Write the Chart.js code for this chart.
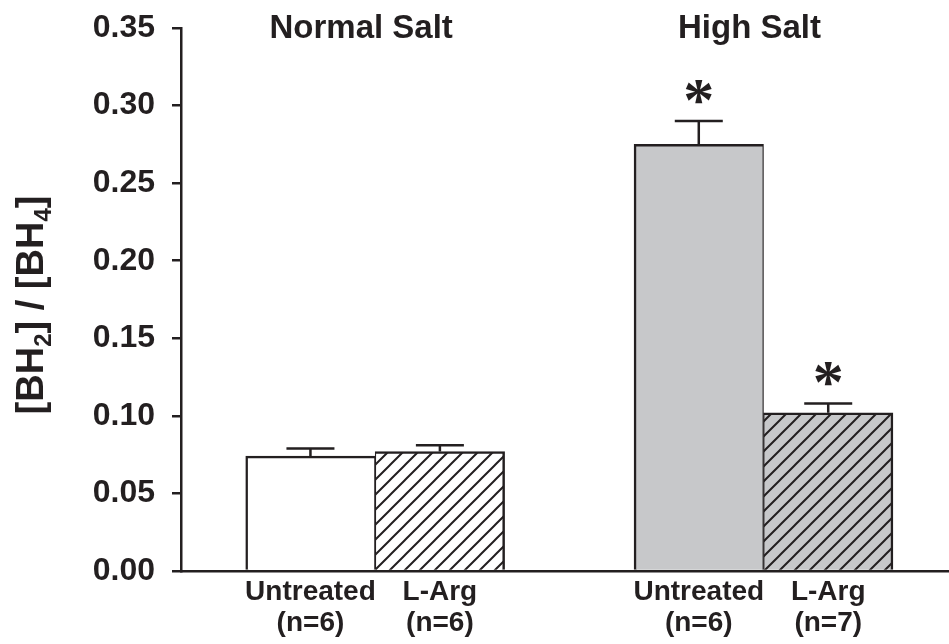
<!DOCTYPE html>
<html>
<head>
<meta charset="utf-8">
<script src="https://cdn.jsdelivr.net/npm/chart.js@4.4.1/dist/chart.umd.min.js"></script>
<style>
  html, body { margin: 0; padding: 0; background: #fff; }
  #wrap { width: 949px; height: 644px; }
</style>
</head>
<body>
<div id="wrap"><canvas id="chart"></canvas></div>
<script>
// data
const groups = ['Normal Salt', 'High Salt'];
const treatments = ['Untreated', 'L-Arg'];
const sampleSizes = [6, 6, 6, 7];          // Normal/Untreated, Normal/L-Arg, High/Untreated, High/L-Arg
const means = [0.074, 0.077, 0.275, 0.102];
const sems = [0.005, 0.004, 0.015, 0.006];
const significant = [false, false, true, true];
const yTicks = [0, 0.05, 0.10, 0.15, 0.20, 0.25, 0.30, 0.35];

const INK = '#231f20';
const GRAY = '#c7c8ca';
const FONT = '"Liberation Sans", Arial, sans-serif';

// bar i -> group g, treatment t; leave one empty slot between groups
const barX = means.map((_, i) => Math.floor(i / 2) * 3 + (i % 2) + 1);

function hatch(bg) {
  const c = document.createElement('canvas');
  c.width = 15; c.height = 15;
  const g = c.getContext('2d');
  g.fillStyle = bg;
  g.fillRect(0, 0, 15, 15);
  g.strokeStyle = INK;
  g.lineWidth = 2;
  g.beginPath();
  g.moveTo(-2, 17); g.lineTo(17, -2);
  g.moveTo(-4, 4); g.lineTo(4, -4);
  g.moveTo(11, 19); g.lineTo(19, 11);
  g.stroke();
  return g.createPattern(c, 'repeat');
}

const fills = means.map((_, i) => {
  const bg = i < 2 ? '#ffffff' : GRAY;
  return i % 2 === 1 ? hatch(bg) : bg;
});

// error bars (upper half only), asterisks, group titles, y title
const annotations = {
  id: 'annotations',
  afterDatasetsDraw(chart) {
    const { ctx, scales: { x, y } } = chart;
    ctx.save();
    ctx.strokeStyle = INK;
    ctx.fillStyle = INK;
    ctx.lineWidth = 2.5;
    means.forEach((m, i) => {
      const px = x.getPixelForValue(barX[i]);
      const top = y.getPixelForValue(m + sems[i]);
      ctx.beginPath();
      ctx.moveTo(px, y.getPixelForValue(m));
      ctx.lineTo(px, top);
      ctx.moveTo(px - 24, top);
      ctx.lineTo(px + 24, top);
      ctx.stroke();

      if (significant[i]) {
        ctx.font = 'bold 62px "Liberation Serif", serif';
        ctx.textAlign = 'center';
        ctx.textBaseline = 'alphabetic';
        const mt = ctx.measureText('*');
        const cy = top - 29;
        ctx.fillText('*', px, cy + (mt.actualBoundingBoxAscent - mt.actualBoundingBoxDescent) / 2);
      }
    });

    ctx.font = 'bold 33px ' + FONT;
    ctx.textAlign = 'center';
    ctx.textBaseline = 'alphabetic';
    groups.forEach((name, g) => {
      const cx = (x.getPixelForValue(barX[g * 2]) + x.getPixelForValue(barX[g * 2 + 1])) / 2;
      ctx.fillText(name, cx - 14, 38);
    });

    // y title with subscripts: [BH2] / [BH4]
    const parts = [['[BH', 0], ['2', 1], ['] / [BH', 0], ['4', 1], [']', 0]];
    const big = 'bold 38px ' + FONT, small = 'bold 24px ' + FONT;
    let total = 0;
    parts.forEach(([t, sub]) => { ctx.font = sub ? small : big; total += ctx.measureText(t).width; });
    ctx.translate(43, 305);
    ctx.rotate(-Math.PI / 2);
    ctx.textAlign = 'left';
    let cur = -total / 2;
    parts.forEach(([t, sub]) => {
      ctx.font = sub ? small : big;
      ctx.fillText(t, cur, sub ? 8 : 0);
      cur += ctx.measureText(t).width;
    });
    ctx.restore();
  }
};

new Chart(document.getElementById('chart'), {
  type: 'bar',
  data: {
    datasets: [{
      data: means.map((m, i) => ({ x: barX[i], y: m })),
      backgroundColor: fills,
      borderColor: INK,
      borderWidth: (c) => c.dataIndex % 2 === 0
        ? { left: 2.5, top: 2.5, right: 1.25, bottom: 0 }
        : { left: 1.25, top: 2.5, right: 2.5, bottom: 0 },
      borderSkipped: 'bottom',
      barPercentage: 1,
      categoryPercentage: 1
    }]
  },
  options: {
    responsive: true,
    maintainAspectRatio: false,
    animation: false,
    layout: { padding: { top: 28, right: 0, left: 0, bottom: 0 } },
    plugins: {
      legend: { display: false },
      title: { display: false },
      tooltip: { enabled: false }
    },
    scales: {
      x: {
        type: 'linear',
        min: 0,
        max: 5.933,
        offset: false,
        grid: { display: false, drawTicks: false },
        border: { display: true, color: INK, width: 2.5 },
        afterBuildTicks: (s) => { s.ticks = barX.map(v => ({ value: v })); },
        afterFit: (s) => { s.height = 73; s.paddingRight = 0; },
        ticks: {
          autoSkip: false,
          maxRotation: 0,
          padding: 6,
          color: INK,
          font: { family: FONT, size: 28, weight: 'bold', lineHeight: 1.1 },
          callback: (v, i) => [treatments[i % 2], '(n=' + sampleSizes[i] + ')']
        }
      },
      y: {
        min: 0,
        max: 0.35,
        grid: { display: true, drawOnChartArea: false, drawTicks: true, tickLength: 9, color: INK, lineWidth: 2.5 },
        border: { display: true, color: INK, width: 2.5 },
        afterBuildTicks: (s) => { s.ticks = yTicks.map(v => ({ value: v })); },
        afterFit: (s) => { s.width = 181; s.paddingTop = 0; s.paddingBottom = 0; },
        ticks: {
          padding: 17,
          color: INK,
          font: { family: FONT, size: 32, weight: 'bold' },
          callback: (v) => v.toFixed(2)
        }
      }
    }
  },
  plugins: [annotations]
});
</script>
</body>
</html>
